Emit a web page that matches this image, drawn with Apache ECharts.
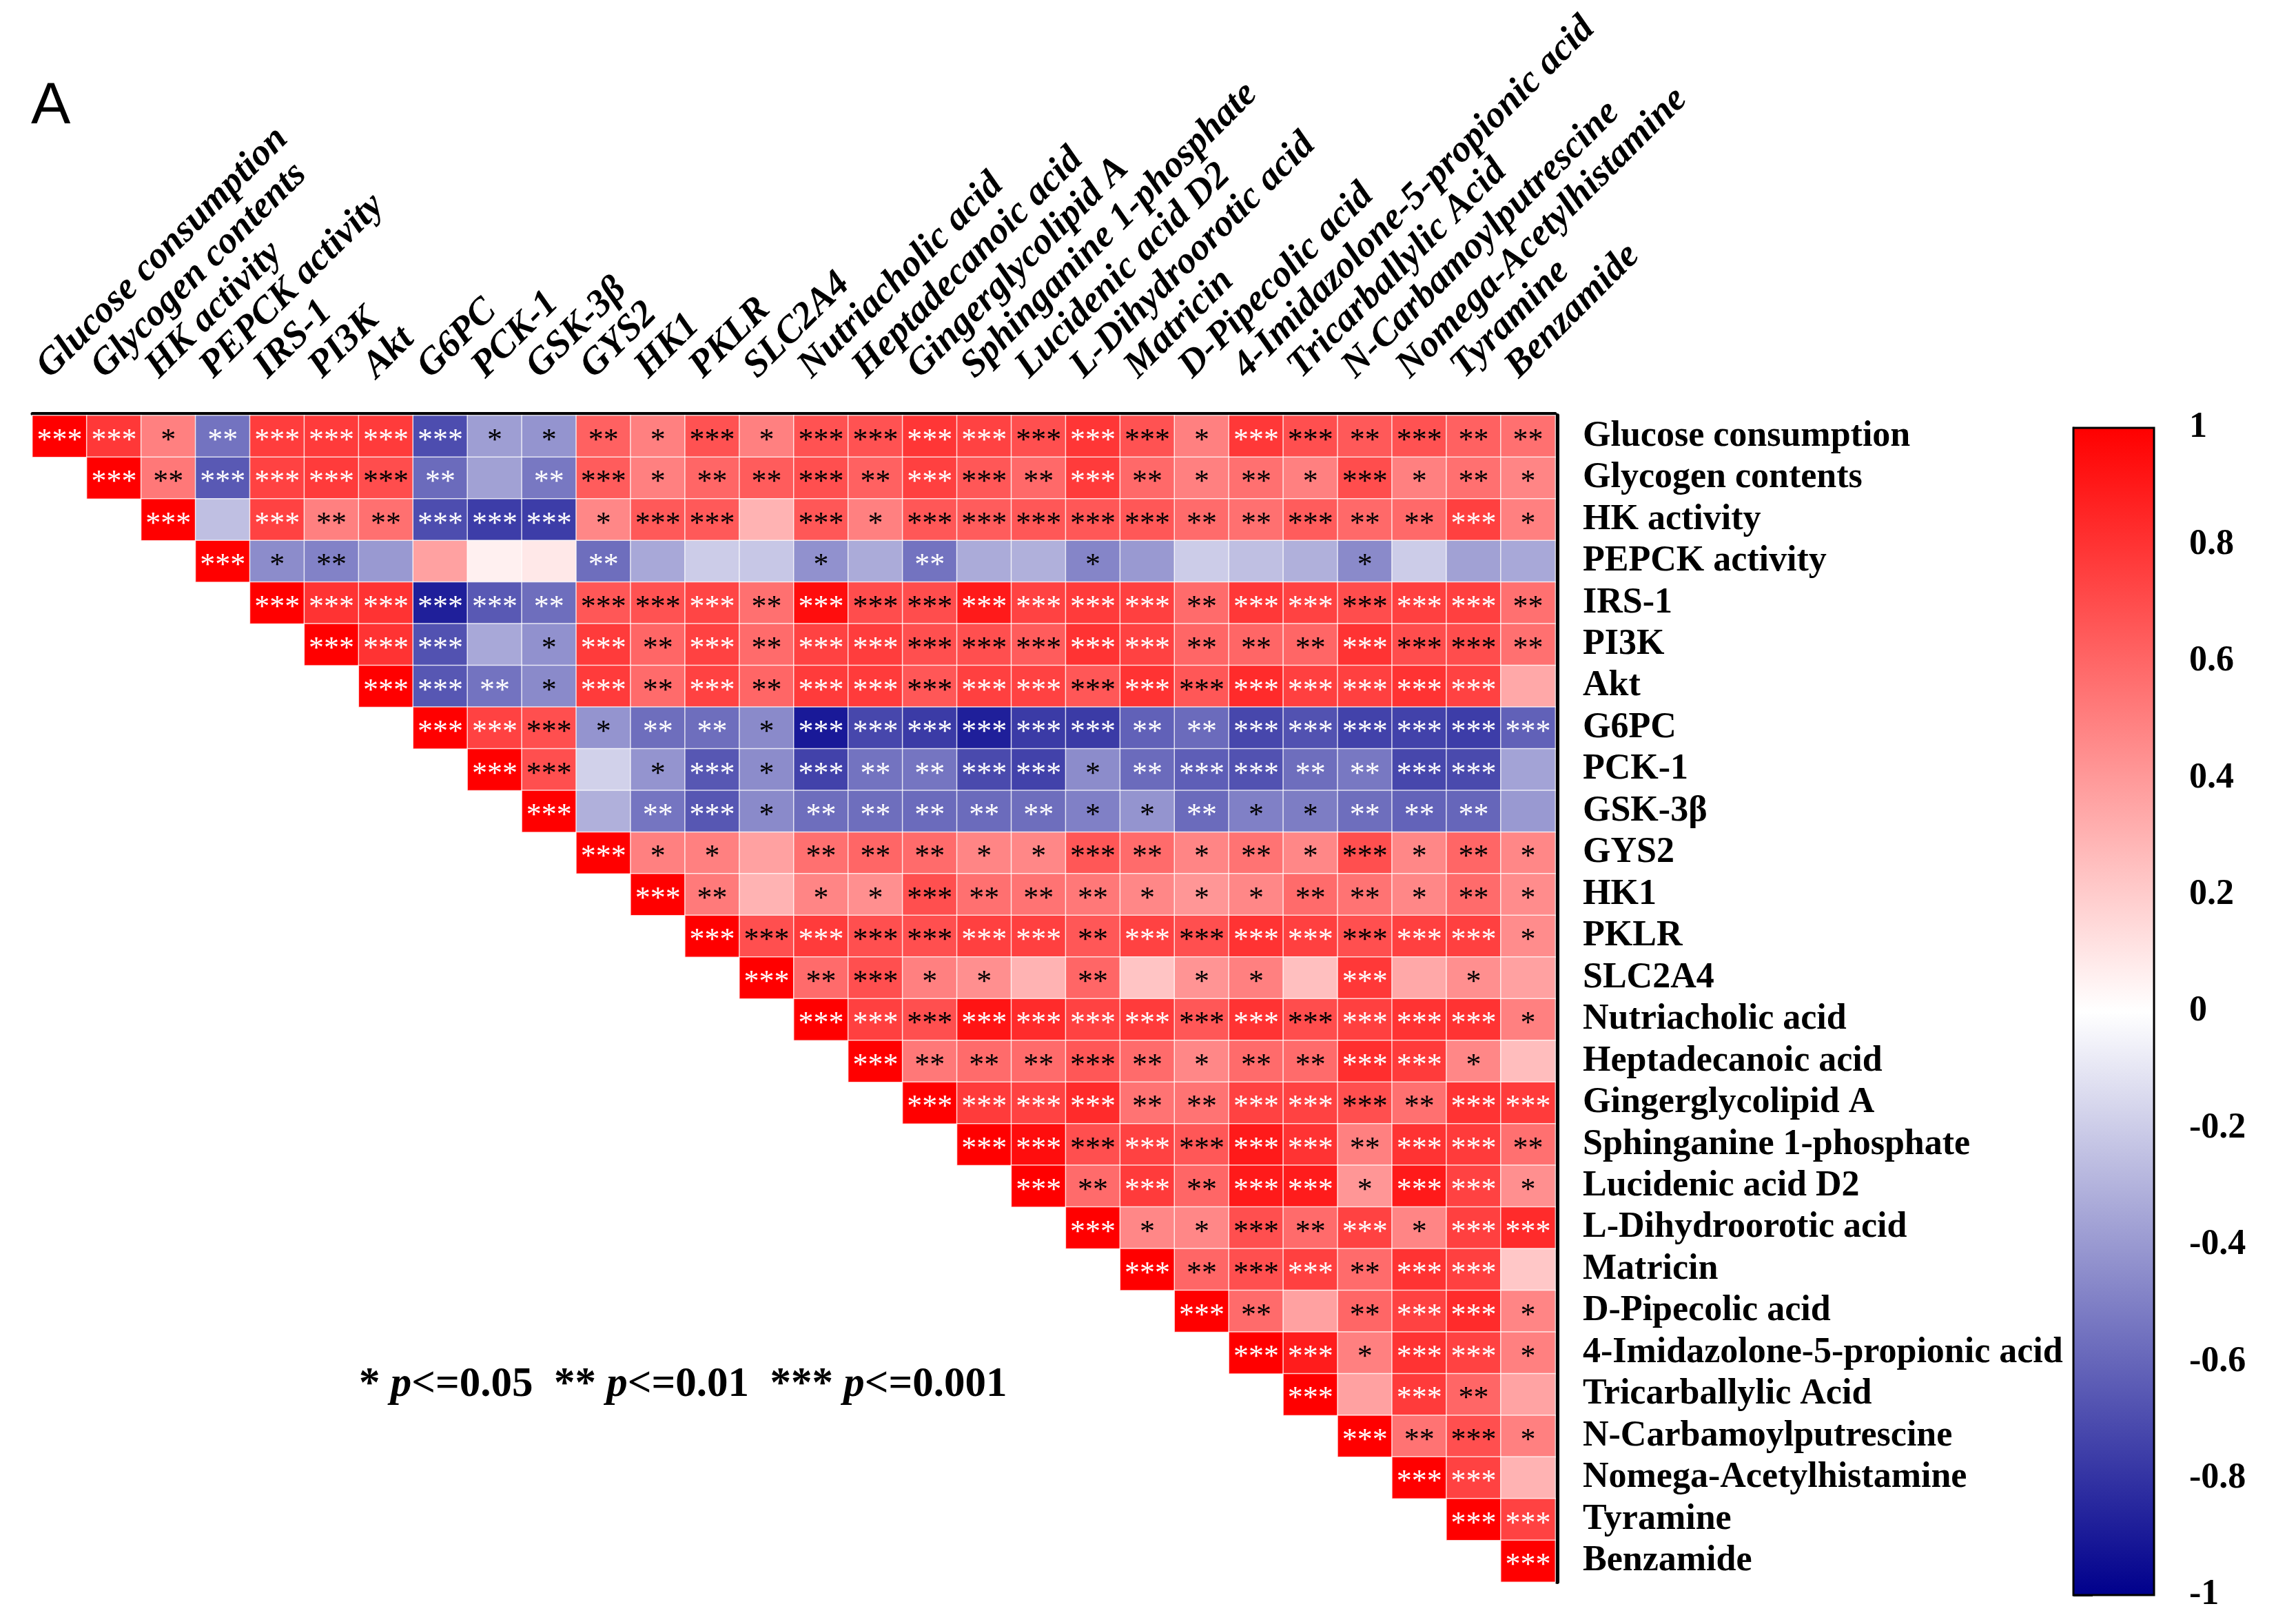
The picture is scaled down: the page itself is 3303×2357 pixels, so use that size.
<!DOCTYPE html>
<html><head><meta charset="utf-8">
<script src="https://cdn.jsdelivr.net/npm/echarts@6/dist/echarts.min.js"></script>
<style>html,body{margin:0;padding:0;background:#fff}#c{width:3303px;height:2357px}</style>
</head><body><div id="c"></div>
<script>
// Variable names (rows top-to-bottom, columns left-to-right)
const labels = ["Glucose consumption","Glycogen contents","HK activity","PEPCK activity","IRS-1","PI3K","Akt","G6PC","PCK-1","GSK-3β","GYS2","HK1","PKLR","SLC2A4","Nutriacholic acid","Heptadecanoic acid","Gingerglycolipid A","Sphinganine 1-phosphate","Lucidenic acid D2","L-Dihydroorotic acid","Matricin","D-Pipecolic acid","4-Imidazolone-5-propionic acid","Tricarballylic Acid","N-Carbamoylputrescine","Nomega-Acetylhistamine","Tyramine","Benzamide"];

// Upper-triangle correlation values: row r holds columns r..27
const corr = [
 [1.0,0.78,0.5,-0.55,0.76,0.77,0.77,-0.7,-0.38,-0.42,0.62,0.5,0.68,0.5,0.68,0.68,0.79,0.74,0.69,0.79,0.68,0.5,0.78,0.69,0.65,0.68,0.62,0.56],
 [1.0,0.53,-0.65,0.74,0.77,0.7,-0.58,-0.37,-0.53,0.64,0.5,0.6,0.64,0.69,0.62,0.75,0.66,0.59,0.77,0.59,0.5,0.56,0.5,0.7,0.5,0.56,0.48],
 [1.0,-0.25,0.74,0.5,0.56,-0.7,-0.76,-0.76,0.47,0.65,0.65,0.3,0.66,0.5,0.66,0.64,0.66,0.66,0.66,0.58,0.56,0.64,0.59,0.59,0.75,0.5],
 [1.0,-0.45,-0.49,-0.4,0.37,0.06,0.09,-0.57,-0.34,-0.2,-0.22,-0.43,-0.33,-0.55,-0.33,-0.31,-0.48,-0.4,-0.2,-0.25,-0.31,-0.46,-0.2,-0.37,-0.34],
 [1.0,0.8,0.8,-0.88,-0.65,-0.57,0.66,0.68,0.73,0.56,0.95,0.7,0.7,0.9,0.74,0.77,0.75,0.58,0.78,0.74,0.7,0.75,0.75,0.56],
 [1.0,0.8,-0.68,-0.34,-0.43,0.77,0.6,0.74,0.58,0.74,0.76,0.69,0.69,0.64,0.8,0.74,0.6,0.6,0.6,0.8,0.7,0.7,0.56],
 [1.0,-0.66,-0.55,-0.46,0.77,0.58,0.74,0.6,0.77,0.77,0.66,0.75,0.74,0.66,0.8,0.66,0.83,0.75,0.75,0.8,0.74,0.34],
 [1.0,0.74,0.69,-0.42,-0.57,-0.57,-0.46,-0.9,-0.72,-0.77,-0.88,-0.77,-0.77,-0.62,-0.58,-0.72,-0.68,-0.74,-0.74,-0.76,-0.62],
 [1.0,0.69,-0.18,-0.42,-0.66,-0.45,-0.74,-0.55,-0.54,-0.71,-0.74,-0.45,-0.58,-0.63,-0.68,-0.57,-0.53,-0.72,-0.71,-0.36],
 [1.0,-0.31,-0.54,-0.66,-0.46,-0.57,-0.57,-0.58,-0.58,-0.57,-0.5,-0.42,-0.58,-0.5,-0.51,-0.57,-0.61,-0.6,-0.4],
 [1.0,0.5,0.5,0.37,0.56,0.6,0.58,0.48,0.47,0.66,0.58,0.48,0.55,0.47,0.69,0.47,0.6,0.47],
 [1.0,0.52,0.3,0.48,0.44,0.69,0.56,0.55,0.53,0.47,0.41,0.47,0.58,0.55,0.47,0.58,0.45],
 [1.0,0.69,0.77,0.69,0.69,0.75,0.75,0.66,0.74,0.69,0.8,0.75,0.69,0.75,0.75,0.45],
 [1.0,0.58,0.69,0.5,0.44,0.3,0.6,0.23,0.42,0.5,0.25,0.78,0.34,0.44,0.37],
 [1.0,0.75,0.69,0.92,0.83,0.74,0.77,0.66,0.8,0.7,0.75,0.8,0.8,0.5],
 [1.0,0.53,0.58,0.58,0.66,0.58,0.47,0.58,0.58,0.82,0.77,0.47,0.26],
 [1.0,0.77,0.74,0.83,0.55,0.55,0.74,0.74,0.69,0.56,0.8,0.77],
 [1.0,0.95,0.69,0.74,0.66,0.9,0.8,0.5,0.8,0.77,0.56],
 [1.0,0.58,0.77,0.6,0.9,0.89,0.41,0.9,0.74,0.44],
 [1.0,0.47,0.47,0.69,0.58,0.74,0.48,0.75,0.83],
 [1.0,0.6,0.69,0.75,0.58,0.8,0.75,0.22],
 [1.0,0.58,0.37,0.6,0.74,0.83,0.48],
 [1.0,0.89,0.5,0.8,0.74,0.5],
 [1.0,0.37,0.77,0.6,0.36],
 [1.0,0.55,0.69,0.5],
 [1.0,0.74,0.3],
 [1.0,0.74],
 [1.0]
];

// Significance level (number of stars) for the same cells
const stars = [
 [3,3,1,2,3,3,3,3,1,1,2,1,3,1,3,3,3,3,3,3,3,1,3,3,2,3,2,2],
 [3,2,3,3,3,3,2,0,2,3,1,2,2,3,2,3,3,2,3,2,1,2,1,3,1,2,1],
 [3,0,3,2,2,3,3,3,1,3,3,0,3,1,3,3,3,3,3,2,2,3,2,2,3,1],
 [3,1,2,0,0,0,0,2,0,0,0,1,0,2,0,0,1,0,0,0,0,1,0,0,0],
 [3,3,3,3,3,2,3,3,3,2,3,3,3,3,3,3,3,2,3,3,3,3,3,2],
 [3,3,3,0,1,3,2,3,2,3,3,3,3,3,3,3,2,2,2,3,3,3,2],
 [3,3,2,1,3,2,3,2,3,3,3,3,3,3,3,3,3,3,3,3,3,0],
 [3,3,3,1,2,2,1,3,3,3,3,3,3,2,2,3,3,3,3,3,3],
 [3,3,0,1,3,1,3,2,2,3,3,1,2,3,3,2,2,3,3,0],
 [3,0,2,3,1,2,2,2,2,2,1,1,2,1,1,2,2,2,0],
 [3,1,1,0,2,2,2,1,1,3,2,1,2,1,3,1,2,1],
 [3,2,0,1,1,3,2,2,2,1,1,1,2,2,1,2,1],
 [3,3,3,3,3,3,3,2,3,3,3,3,3,3,3,1],
 [3,2,3,1,1,0,2,0,1,1,0,3,0,1,0],
 [3,3,3,3,3,3,3,3,3,3,3,3,3,1],
 [3,2,2,2,3,2,1,2,2,3,3,1,0],
 [3,3,3,3,2,2,3,3,3,2,3,3],
 [3,3,3,3,3,3,3,2,3,3,2],
 [3,2,3,2,3,3,1,3,3,1],
 [3,1,1,3,2,3,1,3,3],
 [3,2,3,3,2,3,3,0],
 [3,2,0,2,3,3,1],
 [3,3,1,3,3,1],
 [3,0,3,2,0],
 [3,2,3,1],
 [3,3,0],
 [3,3],
 [3]
];

const colorbarRange = [-1, 1];
const colorbarStep = 0.2;
const scaleColors = ['#00008c', '#ffffff', '#ff0000'];
const legendNote = ['* ', 'p', '<=0.05  ** ', 'p', '<=0.01  *** ', 'p', '<=0.001'];

const heatData = [];
corr.forEach((row, r) => {
  row.forEach((v, k) => {
    const c = r + k;
    const white = v >= 0.72 || v <= -0.52;
    heatData.push({
      value: [c, r, v],
      stars: '*'.repeat(stars[r][k]),
      label: { color: white ? '#ffffff' : '#000000' }
    });
  });
});

const chart = echarts.init(document.getElementById('c'), null, { renderer: 'canvas' });
const serif = '"Liberation Serif", "Times New Roman", serif';

chart.setOption({
  backgroundColor: '#ffffff',
  animation: false,
  grid: [
    { left: 47, top: 603, width: 2210, height: 1693, containLabel: false, outerBoundsMode: 'none' },
    { left: 3009, top: 621, width: 117, height: 1694, show: true, borderColor: '#000', borderWidth: 3, z: 5, containLabel: false, outerBoundsMode: 'none' }
  ],
  xAxis: [
    {
      type: 'category', data: labels, position: 'top', gridIndex: 0, offset: 3,
      axisLine: { show: true, lineStyle: { color: '#000', width: 5 } },
      axisTick: { show: false }, splitLine: { show: false },
      axisLabel: {
        interval: 0, rotate: -45, margin: 36, align: 'left', verticalAlign: 'bottom', padding: [0, 0, 6, 0],
        fontFamily: serif, fontWeight: 'bold', fontStyle: 'italic', fontSize: 55, color: '#000'
      }
    },
    { type: 'value', gridIndex: 1, min: 0, max: 1, show: false }
  ],
  yAxis: [
    {
      type: 'category', data: labels, inverse: true, position: 'right', gridIndex: 0, offset: 3,
      axisLine: { show: true, lineStyle: { color: '#000', width: 6 } },
      axisTick: { show: false }, splitLine: { show: false },
      axisLabel: { interval: 0, margin: 37, fontFamily: serif, fontWeight: 'bold', fontSize: 52, color: '#000' }
    },
    {
      type: 'value', gridIndex: 1, min: colorbarRange[0], max: colorbarRange[1], interval: colorbarStep,
      position: 'right',
      axisLine: { show: true, lineStyle: { color: '#000', width: 3 } },
      axisTick: { show: true, length: 28, lineStyle: { color: '#000', width: 3 } },
      splitLine: { show: false },
      axisLabel: { margin: 51, fontFamily: serif, fontWeight: 'bold', fontSize: 52, color: '#000' }
    }
  ],
  visualMap: {
    show: false, type: 'continuous', seriesIndex: 0, dimension: 2,
    min: colorbarRange[0], max: colorbarRange[1], inRange: { color: scaleColors }
  },
  series: [
    {
      type: 'heatmap', xAxisIndex: 0, yAxisIndex: 0, data: heatData,
      itemStyle: { borderColor: 'rgba(255,255,255,0.75)', borderWidth: 1.5 },
      label: {
        show: true, formatter: p => p.data.stars, offset: [0, 7],
        fontFamily: serif, fontSize: 44, fontWeight: 'normal'
      },
      emphasis: { disabled: true }
    },
    {
      type: 'custom', xAxisIndex: 1, yAxisIndex: 1, data: [colorbarRange], silent: true,
      renderItem: (params, api) => {
        const p1 = api.coord([0, colorbarRange[1]]);
        const p2 = api.coord([1, colorbarRange[0]]);
        return {
          type: 'rect',
          shape: { x: p1[0], y: p1[1], width: p2[0] - p1[0], height: p2[1] - p1[1] },
          style: { fill: new echarts.graphic.LinearGradient(0, 0, 0, 1, [
            { offset: 0, color: scaleColors[2] },
            { offset: 0.5, color: scaleColors[1] },
            { offset: 1, color: scaleColors[0] }
          ]) }
        };
      }
    }
  ],
  graphic: [
    {
      type: 'text', left: 45, top: 112,
      style: { text: 'A', fontFamily: '"Liberation Sans", Arial, sans-serif', fontSize: 86, fill: '#000' }
    },
    {
      type: 'text', x: 521, y: 2010,
      style: {
        text: legendNote.map((t, i) => i % 2 === 1 ? '{p|' + t + '}' : '{a|' + t + '}').join(''),
        verticalAlign: 'middle',
        rich: {
          a: { fontFamily: serif, fontWeight: 'bold', fontSize: 61, fill: '#000' },
          p: { fontFamily: serif, fontWeight: 'bold', fontStyle: 'italic', fontSize: 61, fill: '#000' }
        }
      }
    }
  ]
});
</script>
</body></html>
